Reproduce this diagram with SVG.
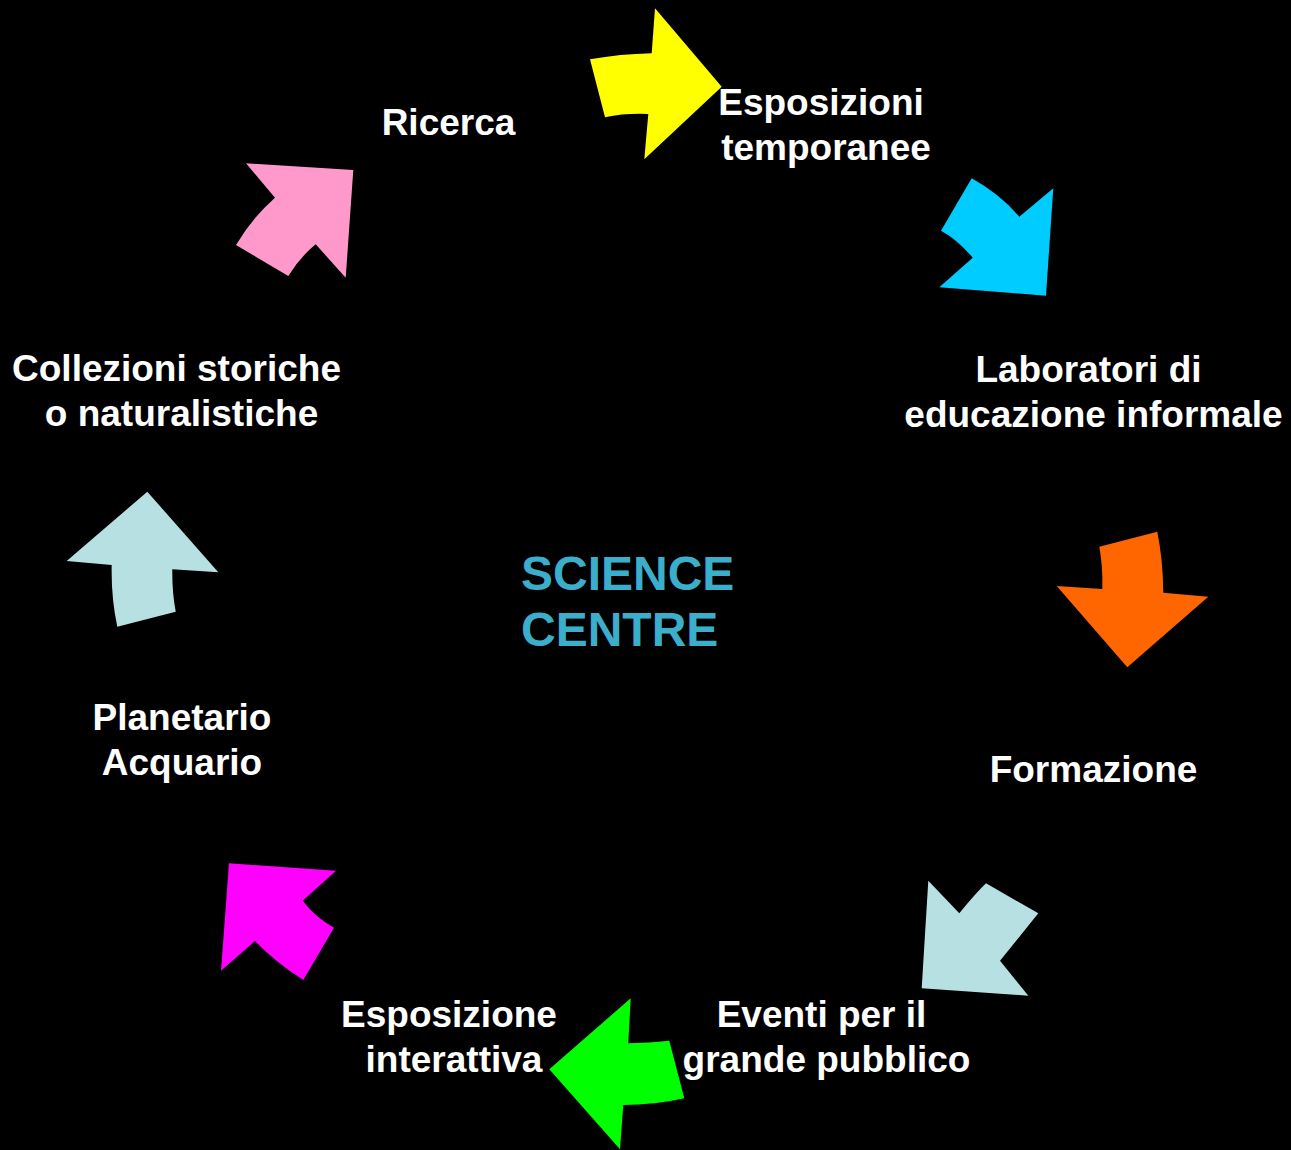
<svg xmlns="http://www.w3.org/2000/svg" width="1291" height="1150" viewBox="0 0 1291 1150">
<style>
.lbl{font-family:"Liberation Sans",Arial,sans-serif;font-weight:bold;font-size:37px;fill:#ffffff;text-anchor:middle}
.title{font-family:"Liberation Sans",Arial,sans-serif;font-weight:bold;font-size:48px;fill:#3aaecb}
</style>
<rect width="1291" height="1150" fill="#000000"/>
<g id="connectors">
<path id="arrow-yellow" fill="#ffff00" d="M590,59.3 Q620,54 651.7,53.3 L655,8.3 L721.7,86.7 L644.3,159.3 L648.3,114 Q625,113 605,117.3 Z"/>
<path id="arrow-cyan" fill="#00ccff" d="M971.7,178.3 Q1000,194 1019.3,216.7 L1053.3,188.3 L1046,295.7 L939.3,287.3 L972.7,257.7 Q958,240 941,230.7 Z"/>
<path id="arrow-orange" fill="#ff6600" d="M1099.3,546.7 L1157.3,531.7 Q1163,560 1163.3,592.7 L1208.3,596.7 L1127.3,667.3 L1056.7,586 L1102.3,589 Q1103,567 1099.3,546.7 Z"/>
<path id="arrow-lightblue-br" fill="#b7e0e3" d="M928.3,880.7 L959.3,913.3 Q975,894 986,883.3 L1038.3,913.3 L1000,960.7 L1028.3,995.7 L921.7,988.3 Z"/>
<path id="arrow-green" fill="#00ff00" d="M549.3,1069.3 L630.7,998.3 L628.3,1043.3 Q650,1043 669.3,1040.7 L684.3,1098.3 Q655,1105 623.3,1105 L620,1149.3 Z"/>
<path id="arrow-magenta" fill="#ff00ff" d="M229,863.3 L336,870.7 L302.7,900.7 Q315,917 334,927.7 L303.3,980 Q275,962 255,941 L221,970.7 Z"/>
<path id="arrow-lightblue-l" fill="#b7e0e3" d="M147.3,491.7 L218.3,572.3 L172.3,569.3 Q172,592 175.7,611.7 L117.3,626.7 Q111,597 111.7,565 L66.7,561 Z"/>
<path id="arrow-pink" fill="#ff99cc" d="M246,163.3 L353.3,170 L345.7,277.7 L315.7,244.3 Q300,257 288.3,276 L236,245 Q252,218 275,197.7 Z"/>
</g>
<g id="node-center"><text class="title" x="521" y="590">SCIENCE</text><text class="title" x="521" y="646">CENTRE</text></g>
<g id="node-ricerca"><text class="lbl" x="448.5" y="135">Ricerca</text></g>
<g id="node-esposizioni"><text class="lbl" x="821" y="115">Esposizioni</text><text class="lbl" x="826" y="160">temporanee</text></g>
<g id="node-laboratori"><text class="lbl" x="1088.5" y="382">Laboratori di</text><text class="lbl" x="1093.5" y="427">educazione informale</text></g>
<g id="node-formazione"><text class="lbl" x="1093.5" y="782">Formazione</text></g>
<g id="node-eventi"><text class="lbl" x="821.5" y="1027">Eventi per il</text><text class="lbl" x="826.5" y="1072">grande pubblico</text></g>
<g id="node-esposizione"><text class="lbl" x="449" y="1027">Esposizione</text><text class="lbl" x="454" y="1072">interattiva</text></g>
<g id="node-planetario"><text class="lbl" x="182" y="730">Planetario</text><text class="lbl" x="182" y="775">Acquario</text></g>
<g id="node-collezioni"><text class="lbl" x="176.5" y="381">Collezioni storiche</text><text class="lbl" x="181.5" y="426">o naturalistiche</text></g>
</svg>
